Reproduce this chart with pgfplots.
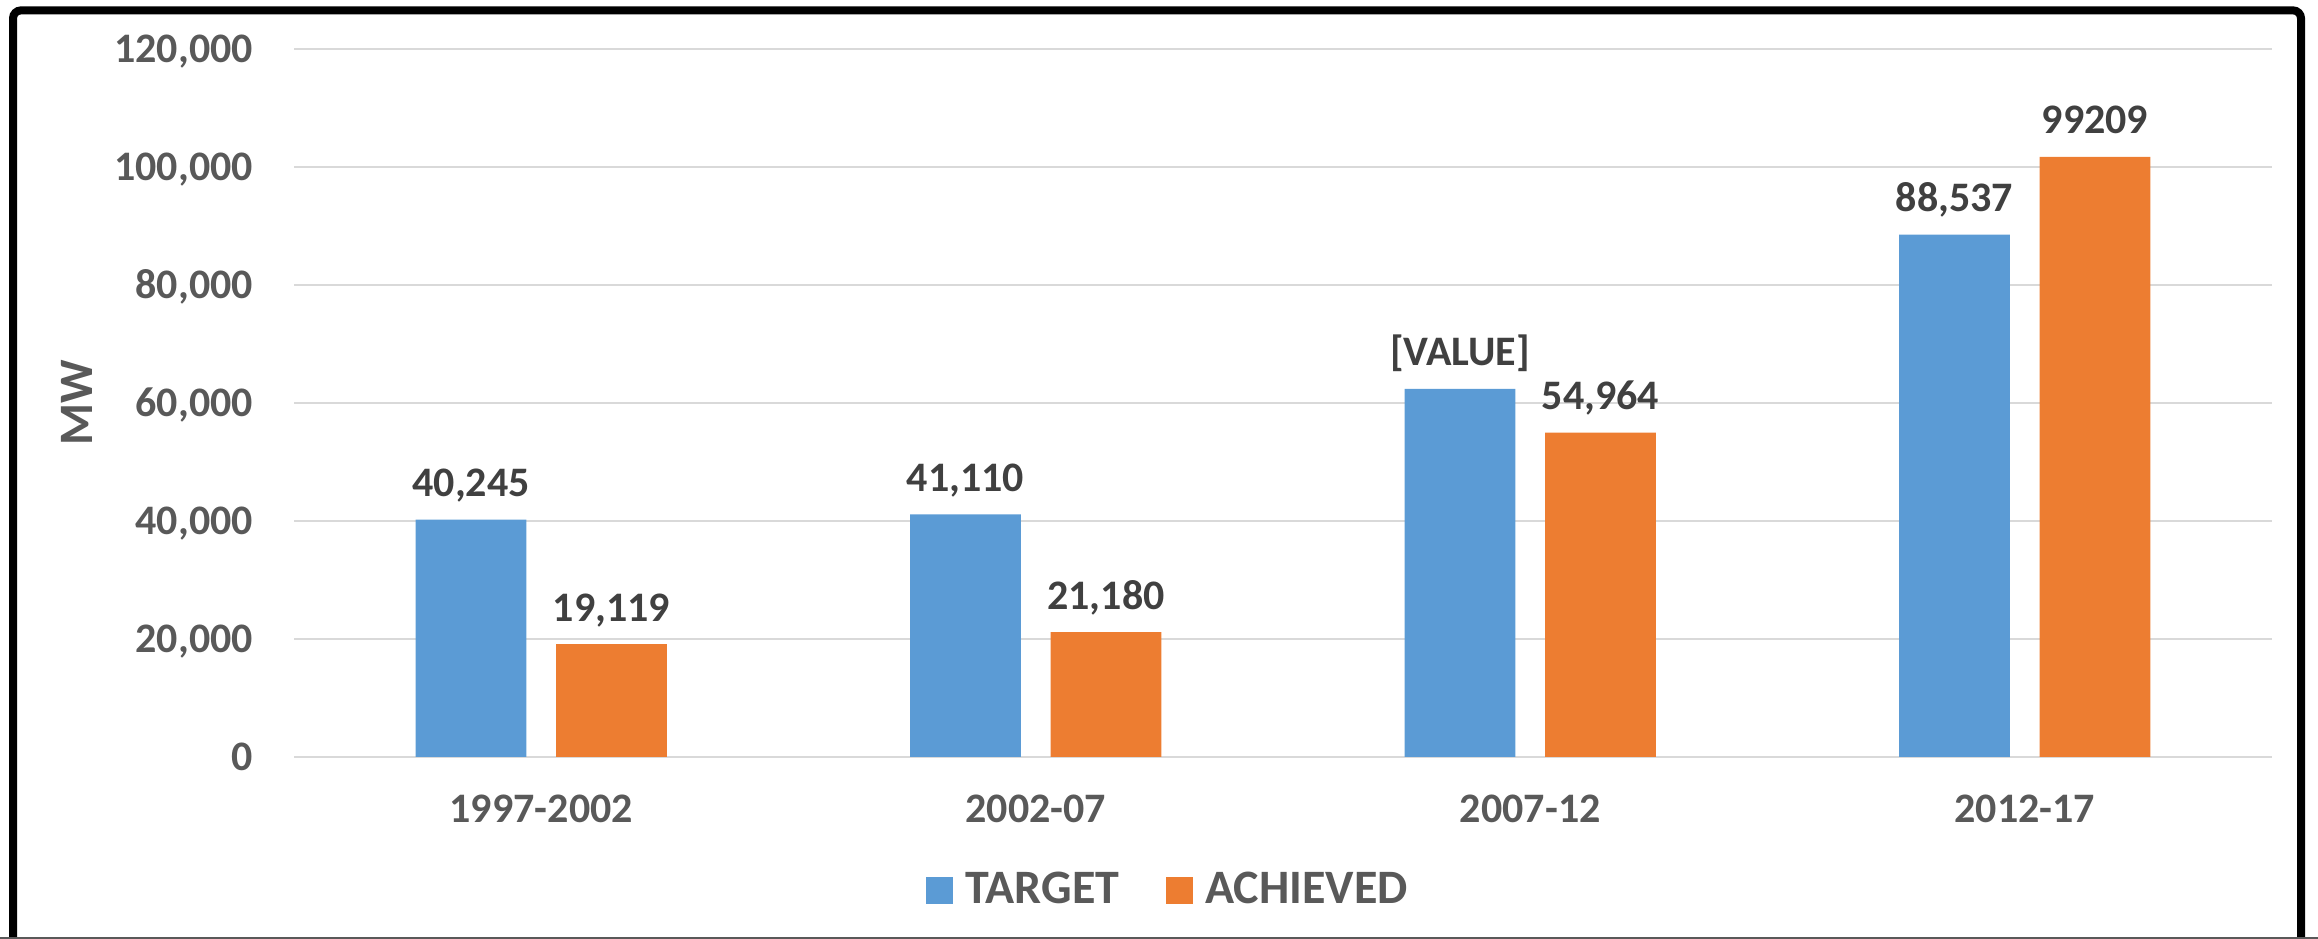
\documentclass[border=0pt]{standalone}
\usepackage{fontspec}
\setmainfont{Carlito}
\usepackage{pgfplots}
\pgfplotsset{compat=1.18}
\definecolor{tblue}{HTML}{5B9BD5}
\definecolor{torange}{HTML}{ED7D31}
\definecolor{gridgray}{HTML}{D9D9D9}
\definecolor{tickgray}{HTML}{595959}
\definecolor{lblgray}{HTML}{404040}
\begin{document}
\begin{tikzpicture}
\useasboundingbox (0,0) rectangle (579.5pt,234.75pt);
\draw[line width=2pt, rounded corners=2pt] (3.25pt,0pt) -- (3.25pt,232.15pt) -- (575.25pt,232.15pt) -- (575.25pt,0pt);
\draw[line width=0.6pt, tickgray] (0,0.3pt) -- (579.5pt,0.3pt);
\begin{axis}[
  at={(73.5pt,45.5pt)}, anchor=south west,
  scale only axis, width=494.5pt, height=177pt,
  ybar=7.4pt, bar width=27.7pt,
  xmin=-0.5, xmax=3.5, ymin=0, ymax=120000,
  xtick={0,1,2,3},
  xticklabels={1997-2002,2002-07,2007-12,2012-17},
  ytick={0,20000,40000,60000,80000,100000,120000},
  scaled y ticks=false,
  /pgf/number format/fixed,
  /pgf/number format/1000 sep={,},
  /pgf/number format/assume math mode=true,
  axis line style={draw=none},
  major tick length=0pt,
  ymajorgrids,
  grid style={gridgray, line width=0.6pt},
  tick label style={font=\fontsize{10.5}{12}\selectfont\bfseries, text=tickgray},
  yticklabel style={anchor=base east, yshift=-3.3pt, xshift=-6.75pt},
  xticklabel style={anchor=base, yshift=-16.5pt},
  ylabel={MW},
  ylabel style={at={(axis description cs:-0.1097,0.5)}, anchor=center, font=\fontsize{12}{14}\selectfont\bfseries, text=tickgray},
  clip=false,
  nodes near coords,
  point meta=explicit symbolic,
  every node near coord/.append style={font=\fontsize{10.5}{12}\selectfont\bfseries, text=lblgray, anchor=base, yshift=5.75pt},
  legend style={at={(axis description cs:0.4434,-0.189)}, anchor=center, draw=none, fill=none,
    legend columns=2, font=\fontsize{12}{14}\selectfont\bfseries, text=tickgray,
    /tikz/every even column/.append style={column sep=9.65pt}},
  legend image code/.code={\fill[#1] (0pt,-3.4pt) rectangle (6.75pt,3.4pt); \path (7.85pt,0pt);},
]
\addplot[fill=tblue, draw=none] table[x=x, y=y, meta=l] {
x y l
0 40245 40,245
1 41110 41,110
2 62374 [VALUE]
3 88537 88,537
};
\addplot[fill=torange, draw=none] table[x=x, y=y, meta=l] {
x y l
0 19119 19,119
1 21180 21,180
2 54964 54,964
3 101700 99209
};
\legend{TARGET,ACHIEVED}
\end{axis}
\end{tikzpicture}
\end{document}
